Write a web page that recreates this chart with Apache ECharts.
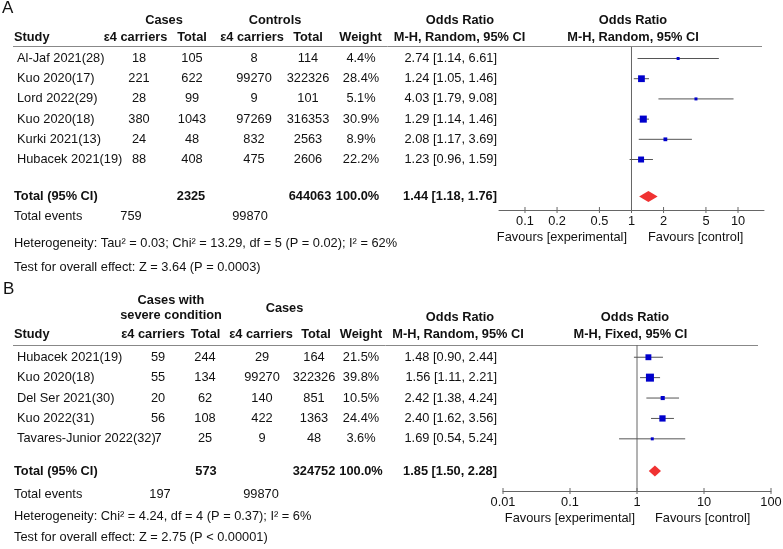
<!DOCTYPE html>
<html><head><meta charset="utf-8">
<script src="https://cdn.jsdelivr.net/npm/echarts@6/dist/echarts.min.js"></script>
<style>html,body{margin:0;padding:0;background:#fff}#c{width:783px;height:549px}</style>
</head><body><div id="c"></div><script>
// ---------- Panel A data ----------
const studiesA = ['Al-Jaf 2021(28)', 'Kuo 2020(17)', 'Lord 2022(29)', 'Kuo 2020(18)', 'Kurki 2021(13)', 'Hubacek 2021(19)'];
const casesEventsA = [18, 221, 28, 380, 24, 88];
const casesTotalA = [105, 622, 99, 1043, 48, 408];
const ctrlEventsA = [8, 99270, 9, 97269, 832, 475];
const ctrlTotalA = [114, 322326, 101, 316353, 2563, 2606];
const weightA = [4.4, 28.4, 5.1, 30.9, 8.9, 22.2];
const orA = [2.74, 1.24, 4.03, 1.29, 2.08, 1.23];
const lowA = [1.14, 1.05, 1.79, 1.14, 1.17, 0.96];
const highA = [6.61, 1.46, 9.08, 1.46, 3.69, 1.59];
const pooledA = [1.44, 1.18, 1.76];
const totalsA = [2325, 644063, 100.0];
const eventsA = [759, 99870];
const ticksA = [0.1, 0.2, 0.5, 1, 2, 5, 10];
const hetA = 'Heterogeneity: Tau\u00B2 = 0.03; Chi\u00B2 = 13.29, df = 5 (P = 0.02); I\u00B2 = 62%';
const testA = 'Test for overall effect: Z = 3.64 (P = 0.0003)';

// ---------- Panel B data ----------
const studiesB = ['Hubacek 2021(19)', 'Kuo 2020(18)', 'Del Ser 2021(30)', 'Kuo 2022(31)', 'Tavares-Junior 2022(32)'];
const casesEventsB = [59, 55, 20, 56, 7];
const casesTotalB = [244, 134, 62, 108, 25];
const ctrlEventsB = [29, 99270, 140, 422, 9];
const ctrlTotalB = [164, 322326, 851, 1363, 48];
const weightB = [21.5, 39.8, 10.5, 24.4, 3.6];
const orB = [1.48, 1.56, 2.42, 2.40, 1.69];
const lowB = [0.90, 1.11, 1.38, 1.62, 0.54];
const highB = [2.44, 2.21, 4.24, 3.56, 5.24];
const pooledB = [1.85, 1.50, 2.28];
const totalsB = [573, 324752, 100.0];
const eventsB = [197, 99870];
const ticksB = [0.01, 0.1, 1, 10, 100];
const hetB = 'Heterogeneity: Chi\u00B2 = 4.24, df = 4 (P = 0.37); I\u00B2 = 6%';
const testB = 'Test for overall effect: Z = 2.75 (P < 0.00001)';

// ---------- styles ----------
const FONT = '"Liberation Sans", Arial, sans-serif';
const FS = 12.8;
const TXT = '#111';
const SQ = '#0000CC';
const DIA = '#F03232';
const CI = '#555';
const AXC = '#666';

function t(x, y, text, align, bold, size) {
  return { type: 'text', x: x, y: y, silent: true,
    style: { text: String(text), fill: TXT, fontFamily: FONT, fontSize: size || FS,
      fontWeight: bold ? 'bold' : 'normal', align: align || 'left', verticalAlign: 'middle' } };
}
function orText(o, l, h) { return o.toFixed(2) + ' [' + l.toFixed(2) + ', ' + h.toFixed(2) + ']'; }

const panels = [
  { studies: studiesA, ce: casesEventsA, ct: casesTotalA, xe: ctrlEventsA, xt: ctrlTotalA, w: weightA,
    or: orA, lo: lowA, hi: highA, pooled: pooledA, totals: totalsA,
    grid: { left: 499, top: 47, width: 265, height: 163 }, xmin: 0.05702, xmax: 17.54,
    yMax: 163 / 20.2, rowOff: 0.57, totalPos: 7.4, ticks: ticksA,
    cols: [139, 192, 254, 308, 361], totCols: [191, 310, 357.5], orRight: 497, nameX: 17, tickLab: 11.7 },
  { studies: studiesB, ce: casesEventsB, ct: casesTotalB, xe: ctrlEventsB, xt: ctrlTotalB, w: weightB,
    or: orB, lo: lowB, hi: highB, pooled: pooledB, totals: totalsB,
    grid: { left: 503, top: 345, width: 268, height: 146 }, xmin: 0.01, xmax: 100,
    yMax: 146 / 20.4, rowOff: 0.6, totalPos: 6.18, ticks: ticksB,
    cols: [158, 205, 262, 314, 361], totCols: [206, 314, 361], orRight: 497, nameX: 17, tickLab: 11 }
];

const grids = [], xAxes = [], yAxes = [], series = [];
panels.forEach(function (p, k) {
  grids.push(Object.assign({}, p.grid));
  xAxes.push({ type: 'log', logBase: 10, gridIndex: k, min: p.xmin, max: p.xmax,
    axisLine: { show: true, onZero: false, lineStyle: { color: AXC, width: 1 } },
    axisTick: { show: false }, axisLabel: { show: false }, splitLine: { show: false } });
  yAxes.push({ type: 'value', gridIndex: k, min: 0, max: p.yMax, inverse: true, show: false });

  // reference line at OR = 1
  series.push({ type: 'custom', xAxisIndex: k, yAxisIndex: k, silent: true, data: [[1, 0]],
    renderItem: function (params, api) {
      const a = api.coord([1, 0]), b = api.coord([1, p.yMax]);
      return { type: 'line', shape: { x1: a[0], y1: a[1], x2: b[0], y2: b[1] }, style: { stroke: AXC, lineWidth: 1 } };
    } });

  // ticks and tick labels
  series.push({ type: 'custom', xAxisIndex: k, yAxisIndex: k, silent: true,
    data: p.ticks.map(function (v) { return [v, p.yMax]; }),
    renderItem: function (params, api) {
      const c = api.coord([api.value(0), p.yMax]);
      return { type: 'group', children: [
        { type: 'line', shape: { x1: c[0], y1: c[1] - 3, x2: c[0], y2: c[1] + 3 }, style: { stroke: AXC, lineWidth: 1 } },
        t(c[0], c[1] + p.tickLab, p.ticks[params.dataIndex], 'center')
      ] };
    } });

  // study CIs and squares
  series.push({ type: 'custom', xAxisIndex: k, yAxisIndex: k, silent: true,
    encode: { x: 0, y: 4 },
    data: p.or.map(function (v, i) { return [v, p.lo[i], p.hi[i], p.w[i], i + p.rowOff]; }),
    renderItem: function (params, api) {
      const yv = api.value(4);
      const c = api.coord([api.value(0), yv]);
      const l = api.coord([api.value(1), yv]);
      const h = api.coord([api.value(2), yv]);
      const s = Math.max(3, 1.27 * Math.sqrt(api.value(3)));
      return { type: 'group', children: [
        { type: 'line', shape: { x1: l[0], y1: c[1], x2: h[0], y2: c[1] }, style: { stroke: CI, lineWidth: 1 } },
        { type: 'rect', shape: { x: c[0] - s / 2, y: c[1] - s / 2, width: s, height: s }, style: { fill: SQ } }
      ] };
    } });

  // pooled diamond
  series.push({ type: 'custom', xAxisIndex: k, yAxisIndex: k, silent: true,
    encode: { x: 0, y: 3 },
    data: [[p.pooled[0], p.pooled[1], p.pooled[2], p.totalPos]],
    renderItem: function (params, api) {
      const yv = api.value(3);
      const c = api.coord([api.value(0), yv]);
      const l = api.coord([api.value(1), yv]);
      const h = api.coord([api.value(2), yv]);
      return { type: 'polygon', shape: { points: [[l[0], c[1]], [c[0], c[1] - 5.5], [h[0], c[1]], [c[0], c[1] + 5.5]] },
        style: { fill: DIA } };
    } });

  // table rows text
  series.push({ type: 'custom', xAxisIndex: k, yAxisIndex: k, silent: true,
    encode: { x: 0, y: 1 },
    data: p.or.map(function (v, i) { return [v, i + p.rowOff]; }),
    renderItem: function (params, api) {
      const i = params.dataIndex;
      const y = api.coord([1, api.value(1)])[1];
      return { type: 'group', children: [
        t(p.nameX, y, p.studies[i], 'left'),
        t(p.cols[0], y, p.ce[i], 'center'),
        t(p.cols[1], y, p.ct[i], 'center'),
        t(p.cols[2], y, p.xe[i], 'center'),
        t(p.cols[3], y, p.xt[i], 'center'),
        t(p.cols[4], y, p.w[i].toFixed(1) + '%', 'center'),
        t(p.orRight, y, orText(p.or[i], p.lo[i], p.hi[i]), 'right')
      ] };
    } });

  // total row text
  series.push({ type: 'custom', xAxisIndex: k, yAxisIndex: k, silent: true,
    encode: { x: 0, y: 1 },
    data: [[p.pooled[0], p.totalPos]],
    renderItem: function (params, api) {
      const y = api.coord([1, api.value(1)])[1];
      return { type: 'group', children: [
        t(14, y, 'Total (95% CI)', 'left', true),
        t(p.totCols[0], y, p.totals[0], 'center', true),
        t(p.totCols[1], y, p.totals[1], 'center', true),
        t(p.totCols[2], y, p.totals[2].toFixed(1) + '%', 'center', true),
        t(p.orRight, y, orText(p.pooled[0], p.pooled[1], p.pooled[2]), 'right', true)
      ] };
    } });
});

const graphics = [
  // Panel A
  t(2, 8, 'A', 'left', false, 17),
  t(164, 20, 'Cases', 'center', true), t(275, 20, 'Controls', 'center', true),
  t(460, 20, 'Odds Ratio', 'center', true), t(633, 20, 'Odds Ratio', 'center', true),
  t(14, 37, 'Study', 'left', true), t(135.5, 37, '\u03B54 carriers', 'center', true), t(192, 37, 'Total', 'center', true),
  t(252, 37, '\u03B54 carriers', 'center', true), t(308, 37, 'Total', 'center', true), t(360.5, 37, 'Weight', 'center', true),
  t(459.5, 37, 'M-H, Random, 95% CI', 'center', true), t(633, 37, 'M-H, Random, 95% CI', 'center', true),
  { type: 'line', silent: true, shape: { x1: 13, y1: 46.5, x2: 762, y2: 46.5 }, style: { stroke: '#888', lineWidth: 1 } },
  t(14, 216.5, 'Total events', 'left'), t(131, 216.5, eventsA[0], 'center'), t(250, 216.5, eventsA[1], 'center'),
  t(14, 243, hetA, 'left'), t(14, 267.5, testA, 'left'),
  t(627, 237.5, 'Favours [experimental]', 'right'), t(648, 237.5, 'Favours [control]', 'left'),
  // Panel B
  t(3, 289, 'B', 'left', false, 17),
  t(171, 300, 'Cases with', 'center', true), t(171, 315, 'severe condition', 'center', true),
  t(284.5, 308, 'Cases', 'center', true),
  t(460, 317, 'Odds Ratio', 'center', true), t(635, 317, 'Odds Ratio', 'center', true),
  t(14, 334, 'Study', 'left', true), t(153, 334, '\u03B54 carriers', 'center', true), t(205.5, 334, 'Total', 'center', true),
  t(261, 334, '\u03B54 carriers', 'center', true), t(316, 334, 'Total', 'center', true), t(361, 334, 'Weight', 'center', true),
  t(458, 334, 'M-H, Random, 95% CI', 'center', true), t(630.5, 334, 'M-H, Fixed, 95% CI', 'center', true),
  { type: 'line', silent: true, shape: { x1: 13, y1: 345.5, x2: 758, y2: 345.5 }, style: { stroke: '#888', lineWidth: 1 } },
  t(14, 494, 'Total events', 'left'), t(160, 494, eventsB[0], 'center'), t(261, 494, eventsB[1], 'center'),
  t(14, 516.5, hetB, 'left'), t(14, 537.5, testB, 'left'),
  t(635, 518, 'Favours [experimental]', 'right'), t(655, 518, 'Favours [control]', 'left')
];

const chart = echarts.init(document.getElementById('c'));
chart.setOption({
  animation: false,
  backgroundColor: '#fff',
  grid: grids, xAxis: xAxes, yAxis: yAxes, series: series,
  graphic: graphics
});
</script></body></html>
